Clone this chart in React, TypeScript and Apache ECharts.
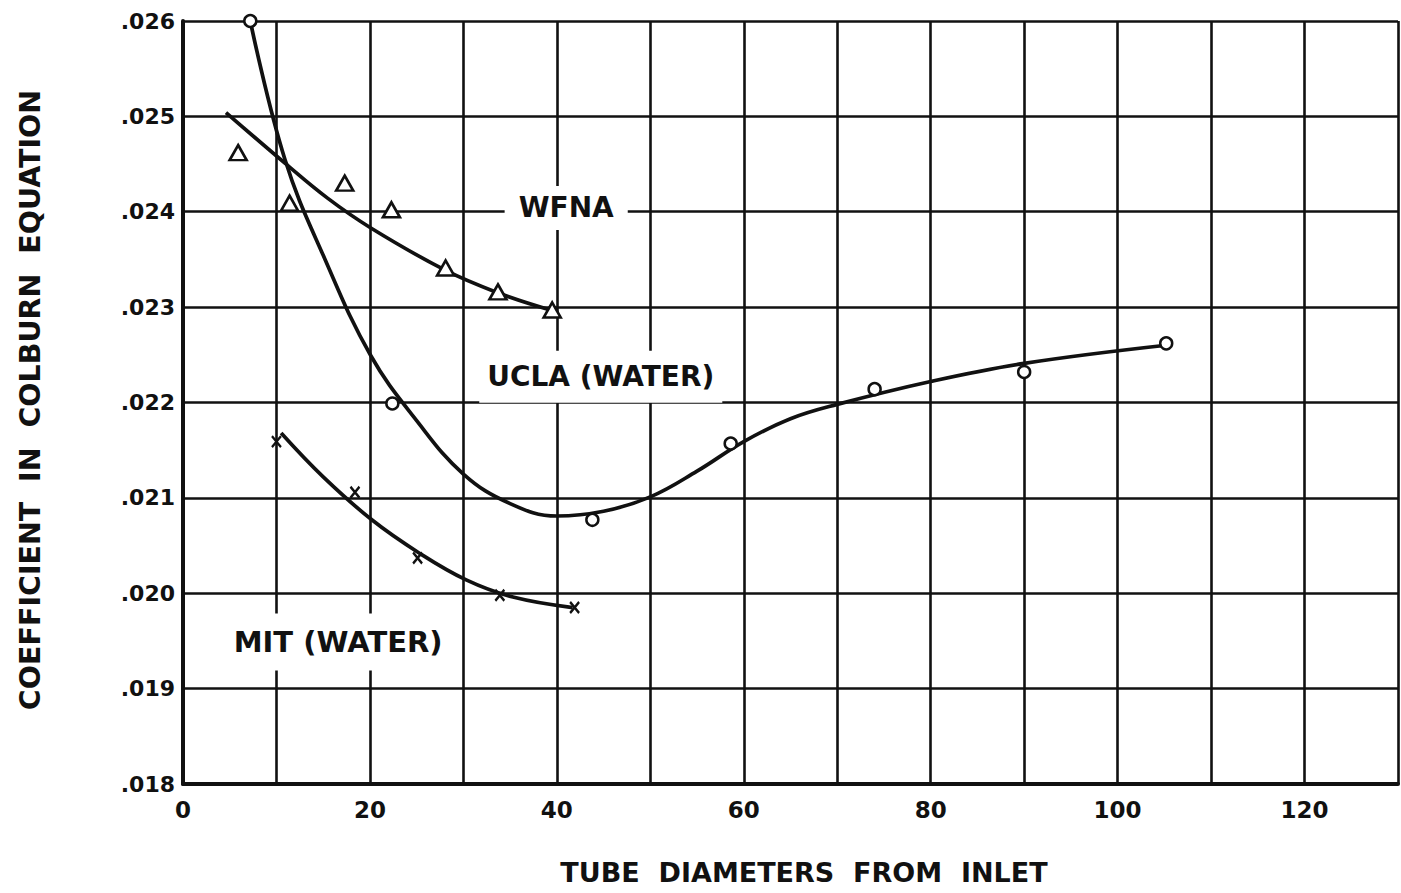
import { useEffect, useRef } from 'react';
import * as echarts from 'echarts';

// Tick labels
const xLabelValues = [0, 20, 40, 60, 80, 100, 120];
const yTickValues = [0.018, 0.019, 0.02, 0.021, 0.022, 0.023, 0.024, 0.025, 0.026];
const yTickLabels = ['.018', '.019', '.020', '.021', '.022', '.023', '.024', '.025', '.026'];

// UCLA (WATER) – measured points (circles) and faired curve
const uclaPoints = [
  [7.2, 0.0260], [22.4, 0.02199], [43.8, 0.02077], [58.6, 0.02157],
  [74.0, 0.02214], [90.0, 0.02232], [105.2, 0.02262],
];
const uclaCurve = [
  [7.2, 0.0260], [10.9, 0.02455], [15.2, 0.0235], [20.1, 0.02249],
  [25.0, 0.02181], [30.0, 0.02125], [35.0, 0.02094], [40.0, 0.02081],
  [45.0, 0.02086], [50.0, 0.02101], [55.0, 0.02128], [60.0, 0.02159],
  [65, 0.02183], [70, 0.02198], [80, 0.02222], [90, 0.02241], [105.2, 0.0226],
];

// WFNA – measured points (triangles) and faired curve
const wfnaPoints = [
  [5.9, 0.02462], [11.4, 0.02409], [17.3, 0.0243], [22.3, 0.02402],
  [28.1, 0.02341], [33.7, 0.02316], [39.5, 0.02297],
];
const wfnaCurve = [
  [4.6, 0.02504], [10.9, 0.02451], [15.5, 0.02414], [20.1, 0.02383],
  [28.0, 0.02339], [33.7, 0.02315], [39.3, 0.02297],
];

// MIT (WATER) – measured points (crosses) and faired curve
const mitPoints = [
  [10.0, 0.02159], [18.4, 0.02106], [25.1, 0.02037], [33.9, 0.01998], [41.9, 0.01985],
];
const mitCurve = [
  [10.5, 0.02168], [15, 0.02122], [20.2, 0.02077], [25.3, 0.02042],
  [30.3, 0.02014], [35.3, 0.01996], [41.7, 0.01985],
];

// Curve labels
const labelNames = ['WFNA', 'UCLA (WATER)', 'MIT (WATER)'];
const labelX = [41.0, 44.7, 16.6];
const labelY = [0.02404, 0.02227, 0.01949];

const INK = '#111';
const FONT = '"DejaVu Sans", "Liberation Sans", sans-serif';

export default function App() {
  const ref = useRef<HTMLDivElement>(null);

  useEffect(() => {
    if (!ref.current) return;
    const chart = echarts.init(ref.current, undefined, { renderer: 'svg' });

    const curveSeries = (data: number[][]) => ({
      type: 'line',
      data,
      smooth: 0.4,
      showSymbol: false,
      symbol: 'none',
      silent: true,
      z: 2,
      lineStyle: { color: INK, width: 3.7 },
    });

    const labelSizes = [28, 28, 29];
    const labelPads = [[8, 14], [12, 8], [14, 10]];

    chart.setOption({
      animation: false,
      backgroundColor: '#fff',
      grid: { left: 183, right: 2, top: 21, bottom: 109, containLabel: false },
      xAxis: {
        type: 'value',
        min: 0,
        max: 130,
        interval: 10,
        axisLine: { show: true, onZero: false, lineStyle: { color: INK, width: 4 } },
        axisTick: { show: false },
        splitLine: { show: true, lineStyle: { color: INK, width: 2.6 } },
        axisLabel: {
          margin: 14,
          color: INK,
          fontFamily: FONT,
          fontWeight: 'bold',
          fontSize: 23,
          showMaxLabel: true,
          formatter: (v: number) => (xLabelValues.indexOf(Math.round(v)) >= 0 ? String(Math.round(v)) : ''),
        },
      },
      yAxis: {
        type: 'value',
        min: 0.018,
        max: 0.026,
        interval: 0.001,
        axisLine: { show: true, onZero: false, lineStyle: { color: INK, width: 4 } },
        axisTick: { show: false },
        splitLine: { show: true, lineStyle: { color: INK, width: 2.6 } },
        axisLabel: {
          margin: 8,
          color: INK,
          fontFamily: FONT,
          fontWeight: 'bold',
          fontSize: 22,
          formatter: (v: number) => {
            let best = 0;
            for (let i = 0; i < yTickValues.length; i++) {
              if (Math.abs(yTickValues[i] - v) < Math.abs(yTickValues[best] - v)) best = i;
            }
            return yTickLabels[best];
          },
        },
      },
      graphic: [
        {
          type: 'text',
          x: 30,
          y: 400,
          rotation: Math.PI / 2,
          style: {
            text: 'COEFFICIENT  IN  COLBURN  EQUATION',
            font: `bold 28.5px ${FONT}`,
            fill: INK,
            align: 'center',
            verticalAlign: 'middle',
          },
        },
        {
          type: 'text',
          x: 804,
          y: 872,
          style: {
            text: 'TUBE  DIAMETERS  FROM  INLET',
            font: `bold 27px ${FONT}`,
            fill: INK,
            align: 'center',
            verticalAlign: 'middle',
          },
        },
      ],
      series: [
        curveSeries(uclaCurve),
        curveSeries(wfnaCurve),
        curveSeries(mitCurve),
        {
          type: 'scatter',
          data: uclaPoints,
          symbol: 'circle',
          symbolSize: 12,
          z: 3,
          silent: true,
          itemStyle: { color: '#fff', borderColor: INK, borderWidth: 2.5, opacity: 1 },
        },
        {
          type: 'scatter',
          data: wfnaPoints,
          symbol: 'triangle',
          symbolSize: [17, 15],
          z: 3,
          silent: true,
          itemStyle: { color: '#fff', borderColor: INK, borderWidth: 2.6, opacity: 1 },
        },
        {
          type: 'scatter',
          data: mitPoints,
          symbol: 'path://M0,0L10,12M10,0L0,12',
          symbolSize: [9, 11],
          z: 3,
          silent: true,
          itemStyle: { color: 'transparent', borderColor: INK, borderWidth: 2.5, opacity: 1 },
        },
        {
          type: 'scatter',
          z: 4,
          silent: true,
          symbolSize: 1,
          itemStyle: { color: 'rgba(0,0,0,0)', opacity: 1 },
          data: labelNames.map((name, i) => ({
            name,
            value: [labelX[i], labelY[i]],
            label: {
              show: true,
              position: 'inside',
              formatter: '{b}',
              color: INK,
              opacity: 1,
              fontFamily: FONT,
              fontWeight: 'bold',
              fontSize: labelSizes[i],
              backgroundColor: '#fff',
              padding: labelPads[i],
            },
          })),
        },
      ],
    });

    return () => chart.dispose();
  }, []);

  return (
    <div
      ref={ref}
      style={{ position: 'fixed', left: 0, top: 0, width: 1401, height: 893 }}
    />
  );
}
